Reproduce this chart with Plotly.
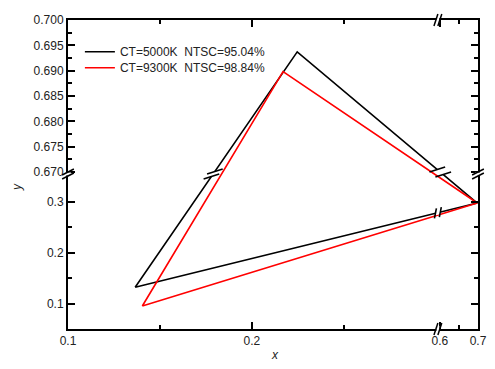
import plotly.graph_objects as go

# ---------------- data ----------------
series_names = ["CT=5000K  NTSC=95.04%", "CT=9300K  NTSC=98.84%"]
series_colors = ["#000000", "#ff0000"]
black_x = [0.1365, 0.2246, 0.698, 0.1365]
black_y = [0.1318, 0.6937, 0.297, 0.1318]
red_x = [0.1404, 0.2169, 0.698, 0.1404]
red_y = [0.0951, 0.6898, 0.297, 0.0951]

x_tick_vals = [0.1, 0.2, 0.6, 0.7]
x_tick_text = ["0.1", "0.2", "0.6", "0.7"]
x_minor_vals = [0.15, 0.25, 0.65]
y_tick_vals = [0.1, 0.2, 0.3, 0.670, 0.675, 0.680, 0.685, 0.690, 0.695, 0.700]
y_tick_text = ["0.1", "0.2", "0.3", "0.670", "0.675", "0.680", "0.685", "0.690", "0.695", "0.700"]
y_minor_vals = [0.15, 0.25, 0.6725, 0.6775, 0.6825, 0.6875, 0.6925, 0.6975]

# ---------------- broken-axis scale ----------------
PLOT_W, PLOT_H = 419, 309
X_SEGMENTS = [(0.1, 0.3, 0, 376), (0.6, 0.7, 380, 419)]
Y_SEGMENTS = [(0.05, 0.35, 0, 153), (0.67, 0.70, 157, 309)]
X_BREAK = (X_SEGMENTS[0][3] + X_SEGMENTS[1][2]) / 2
Y_BREAK = (Y_SEGMENTS[0][3] + Y_SEGMENTS[1][2]) / 2


def seg_map(v, segs):
    for v0, v1, p0, p1 in segs:
        if v0 - 1e-9 <= v <= v1 + 1e-9:
            return p0 + (v - v0) / (v1 - v0) * (p1 - p0)
    raise ValueError(v)


def mx(vals):
    return [seg_map(v, X_SEGMENTS) for v in vals]


def my(vals):
    return [seg_map(v, Y_SEGMENTS) for v in vals]


FONT = "Liberation Sans, Arial, sans-serif"
TXT = "#222222"

fig = go.Figure()
for name, color, xs, ys, leg in [
    (series_names[0], series_colors[0], black_x, black_y, "legend"),
    (series_names[1], series_colors[1], red_x, red_y, "legend2"),
]:
    fig.add_trace(go.Scatter(x=mx(xs), y=my(ys), mode="lines", name=name, legend=leg,
                             line=dict(color=color, width=1.6)))

shapes = []


def pline(x0, y0, x1, y1, color="black", width=1.5):
    shapes.append(dict(type="line", xref="paper", yref="paper", layer="above",
                       x0=x0 / PLOT_W, y0=y0 / PLOT_H, x1=x1 / PLOT_W, y1=y1 / PLOT_H,
                       line=dict(color=color, width=width)))


def prect(x0, y0, x1, y1):
    shapes.append(dict(type="rect", xref="paper", yref="paper", layer="above",
                       x0=x0 / PLOT_W, y0=y0 / PLOT_H, x1=x1 / PLOT_W, y1=y1 / PLOT_H,
                       fillcolor="white", line=dict(width=0)))


# axis breaks on left/right (y break) and bottom/top (x break)
ylo, yhi = Y_SEGMENTS[0][3], Y_SEGMENTS[1][2]
for ax in (0, PLOT_W):
    prect(ax - 3, ylo + 0.5, ax + 3, yhi - 0.5)
    for yy in (ylo, yhi):
        pline(ax - 6, yy - 3, ax + 6, yy + 3)
xlo, xhi = X_SEGMENTS[0][3], X_SEGMENTS[1][2]
for ay in (0, PLOT_H):
    prect(xlo + 0.5, ay - 3, xhi - 0.5, ay + 3)
    for xx in (xlo, xhi):
        pline(xx - 2, ay - 6, xx + 2, ay + 6)

# break marks on the black triangle's edges
bx, by = mx(black_x), my(black_y)
for i in range(len(bx) - 1):
    x0, y0, x1, y1 = bx[i], by[i], bx[i + 1], by[i + 1]
    dx, dy = x1 - x0, y1 - y0
    pts = []
    cy = (y0 - Y_BREAK) * (y1 - Y_BREAK) < 0
    cx = (x0 - X_BREAK) * (x1 - X_BREAK) < 0
    if cy:
        t = (Y_BREAK - y0) / dy
        pts.append((x0 + t * dx, Y_BREAK))
    if cx:
        t = (X_BREAK - x0) / dx
        pts.append((X_BREAK, y0 + t * dy))
    if not pts:
        continue
    c = (sum(p[0] for p in pts) / len(pts), sum(p[1] for p in pts) / len(pts))
    if cy:
        off = 2.5 / abs(dy)
        half = (8, 2.5)
    else:
        off = 2.5 / abs(dx)
        half = (1, 5)
    s1 = (c[0] - off * dx, c[1] - off * dy)
    s2 = (c[0] + off * dx, c[1] + off * dy)
    pline(s1[0], s1[1], s2[0], s2[1], color="white", width=4)
    for s in (s1, s2):
        pline(s[0] - half[0], s[1] - half[1], s[0] + half[0], s[1] + half[1], width=1.6)

axis_common = dict(showgrid=False, zeroline=False, showline=True, linewidth=2,
                   linecolor="black", mirror="allticks", ticks="inside", ticklen=7,
                   tickwidth=1.5, tickcolor="black",
                   tickfont=dict(family=FONT, size=12, color=TXT))

legend_common = dict(xanchor="left", yanchor="middle", bgcolor="rgba(0,0,0,0)",
                     borderwidth=0, font=dict(family=FONT, size=12, color=TXT))

fig.update_layout(
    width=495, height=369, autosize=False,
    margin=dict(l=68, r=8, t=20, b=40),
    paper_bgcolor="white", plot_bgcolor="white",
    xaxis=dict(range=[0, PLOT_W], tickmode="array", tickvals=mx(x_tick_vals),
               ticktext=x_tick_text,
               minor=dict(tickmode="array", tickvals=mx(x_minor_vals), ticks="inside",
                          ticklen=4, tickwidth=1.5, tickcolor="black"),
               **axis_common),
    yaxis=dict(range=[0, PLOT_H], tickmode="array", tickvals=my(y_tick_vals),
               ticktext=y_tick_text,
               minor=dict(tickmode="array", tickvals=my(y_minor_vals), ticks="inside",
                          ticklen=4, tickwidth=1.5, tickcolor="black"),
               **axis_common),
    showlegend=True,
    legend=dict(x=0.029, y=(329 - 51.7) / PLOT_H, **legend_common),
    legend2=dict(x=0.029, y=(329 - 67.7) / PLOT_H, **legend_common),
    shapes=shapes,
    annotations=[
        dict(text="<i>x</i>", xref="paper", yref="paper", x=(280 - 68) / PLOT_W,
             y=(329 - 355) / PLOT_H, xanchor="center", yanchor="middle", showarrow=False,
             font=dict(family=FONT, size=12, color=TXT)),
        dict(text="<i>y</i>", xref="paper", yref="paper", x=(16 - 68) / PLOT_W,
             y=(329 - 187) / PLOT_H, xanchor="center", yanchor="middle", showarrow=False,
             textangle=-90, font=dict(family=FONT, size=12, color=TXT)),
    ],
)

fig.write_html("out.html", config={"displayModeBar": False},
               post_script="document.body.style.margin='0';")
